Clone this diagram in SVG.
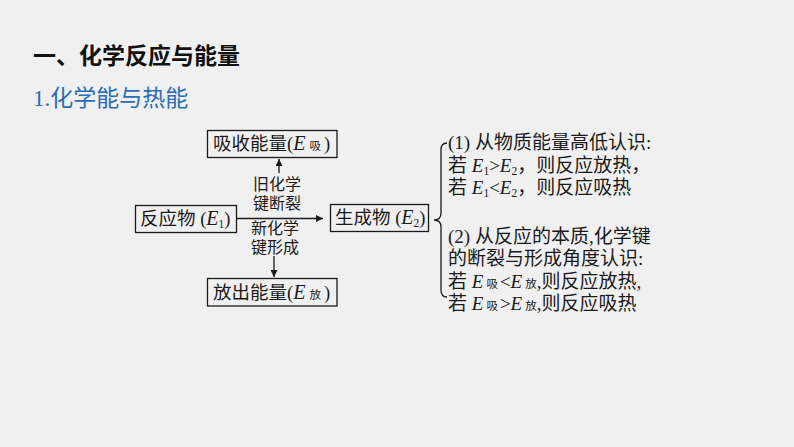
<svg xmlns="http://www.w3.org/2000/svg" width="794" height="447" viewBox="0 0 794 447">
<defs>
<style>
.bg{fill:#f0f0f0}
.box{fill:none;stroke:#1a1a1a;stroke-width:1.3}
.t{font-family:"Liberation Serif","Noto Sans CJK SC",serif;font-size:18.5px;fill:#1a1a1a}
.r{font-family:"Liberation Serif","Noto Sans CJK SC",serif;font-size:19px;fill:#1a1a1a}
.lbl{font-family:"Liberation Serif","Noto Sans CJK SC",serif;font-size:16px;fill:#1a1a1a}
.i{font-style:italic}
.sub{font-size:11.5px}
.line{stroke:#1a1a1a;stroke-width:1.3;fill:none}
</style>
<marker id="ah" viewBox="0 0 10 10" refX="10" refY="5" markerWidth="7" markerHeight="7" markerUnits="userSpaceOnUse" orient="auto">
<path d="M0,0 L10,5 L0,10 z" fill="#1a1a1a"/>
</marker>
</defs>
<rect class="bg" x="0" y="0" width="794" height="447"/>
<g id="title">
<text x="33" y="64" font-family="'Noto Sans CJK SC',sans-serif" font-weight="bold" font-size="23" fill="#111">一、化学反应与能量</text>
</g>
<g id="subtitle">
<text x="33" y="106" font-size="23" fill="#2a6db0"><tspan font-family="'Liberation Serif',serif">1.</tspan><tspan font-family="'Noto Sans CJK SC',sans-serif">化学能与热能</tspan></text>
</g>
<g id="absorb">
<rect class="box" x="207.5" y="130.5" width="129.5" height="27"/>
<text class="t" x="213" y="150">吸收能量(<tspan class="i" font-size="20">E</tspan><tspan class="sub" dx="4">吸</tspan><tspan dx="3">)</tspan></text>
</g>
<g id="reactant">
<rect class="box" x="135.5" y="205.5" width="101" height="27"/>
<text class="t" x="140" y="225">反应物 (<tspan class="i" font-size="20">E</tspan><tspan class="sub" dy="3">1</tspan><tspan dy="-3">)</tspan></text>
</g>
<g id="product">
<rect class="box" x="330.5" y="204.5" width="98" height="27"/>
<text class="t" x="335" y="224">生成物 (<tspan class="i" font-size="20">E</tspan><tspan class="sub" dy="3">2</tspan><tspan dy="-3">)</tspan></text>
</g>
<g id="release">
<rect class="box" x="207.5" y="278.5" width="129.5" height="27.5"/>
<text class="t" x="213" y="299">放出能量(<tspan class="i" font-size="20">E</tspan><tspan class="sub" dx="4">放</tspan><tspan dx="3">)</tspan></text>
</g>
<g id="connectors">
<line class="line" x1="237" y1="218.5" x2="323" y2="218.5" marker-end="url(#ah)"/>
<line class="line" x1="279" y1="173" x2="279" y2="159" marker-end="url(#ah)"/>
<line class="line" x1="274" y1="256" x2="274" y2="277" marker-end="url(#ah)"/>
</g>
<g id="labels">
<text class="lbl" x="277" y="190" text-anchor="middle">旧化学</text>
<text class="lbl" x="277" y="208.5" text-anchor="middle">键断裂</text>
<text class="lbl" x="275" y="234" text-anchor="middle">新化学</text>
<text class="lbl" x="275" y="252.5" text-anchor="middle">键形成</text>
</g>
<g id="brace">
<path class="line" d="M447,143 Q441,143 441,150 L441,213 Q441,220 434,220 Q441,220 441,227 L441,290 Q441,297 447,297"/>
</g>
<g id="notes">
<text class="r" x="448" y="149">(1) 从物质能量高低认识:</text>
<text class="r" x="448" y="172">若 <tspan class="i">E</tspan><tspan class="sub" dy="3">1</tspan><tspan dy="-3">&gt;</tspan><tspan class="i">E</tspan><tspan class="sub" dy="3">2</tspan><tspan dy="-3">，则反应放热，</tspan></text>
<text class="r" x="448" y="194">若 <tspan class="i">E</tspan><tspan class="sub" dy="3">1</tspan><tspan dy="-3">&lt;</tspan><tspan class="i">E</tspan><tspan class="sub" dy="3">2</tspan><tspan dy="-3">，则反应吸热</tspan></text>
<text class="r" x="448" y="243">(2) 从反应的本质,化学键</text>
<text class="r" x="448" y="265">的断裂与形成角度认识:</text>
<text class="r" x="448" y="288">若 <tspan class="i">E</tspan><tspan class="sub" dx="3">吸</tspan><tspan dx="2">&lt;</tspan><tspan class="i">E</tspan><tspan class="sub" dx="3">放</tspan><tspan>,则反应放热,</tspan></text>
<text class="r" x="448" y="310">若 <tspan class="i">E</tspan><tspan class="sub" dx="3">吸</tspan><tspan dx="2">&gt;</tspan><tspan class="i">E</tspan><tspan class="sub" dx="3">放</tspan><tspan>,则反应吸热</tspan></text>
</g>
</svg>
